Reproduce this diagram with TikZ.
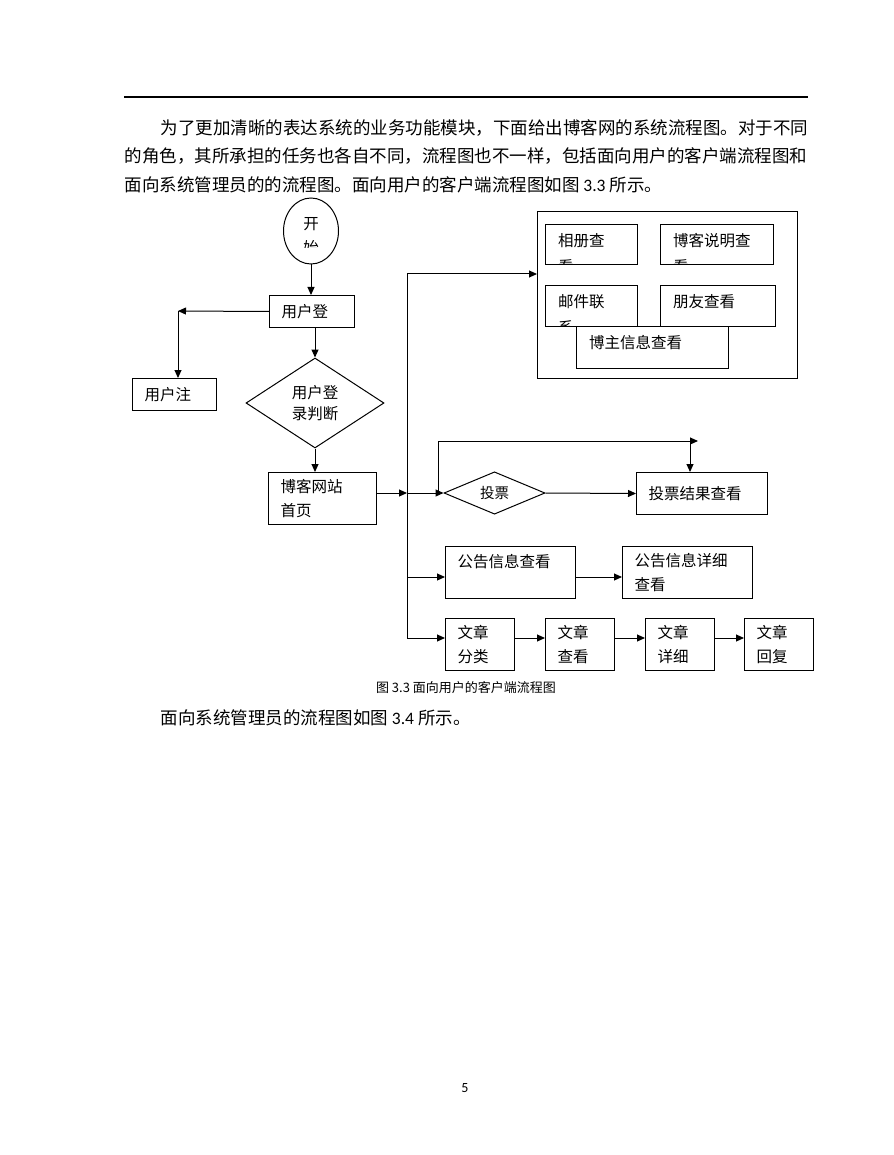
\documentclass[tikz,border=0pt]{standalone}
\usepackage{fontspec}
\setmainfont{Noto Sans CJK SC}
\newfontfamily\latin{Carlito}
\usetikzlibrary{shapes.geometric,arrows.meta}

\newcommand{\boxfont}{\fontsize{15.5}{24}\selectfont}
\newcommand{\bodyfont}{\fontsize{17.5}{28}\selectfont}
\newcommand{\capfont}{\fontsize{13}{16}\selectfont}

\tikzset{
  box/.style={draw, fill=white, anchor=north west, align=left, inner xsep=12pt, inner ysep=0pt, font=\boxfont},
  panel/.style={draw, fill=white, anchor=north west, inner sep=0pt},
  cut/.style={path picture={\node[anchor=north west, inner sep=0pt, minimum width=0pt, minimum height=0pt, align=left, font=\fontsize{15.5}{26}\selectfont] at ([shift={(12pt,-8pt)}]path picture bounding box.north west) {#1};}},
  decide/.style={diamond, draw, fill=white, inner sep=0pt, align=center},
  textline/.style={anchor=west, inner sep=0pt, font=\bodyfont},
}

\begin{document}
\begin{tikzpicture}[x=1pt, y=-1pt, line width=1pt, >={Triangle[length=8pt,width=7pt]}]
  \useasboundingbox (0,0) rectangle (893,1155);

  % page text
  \draw[line width=2pt] (124,97) -- (808,97);
  \node[textline] (para1) at (160,128) {为了更加清晰的表达系统的业务功能模块，下面给出博客网的系统流程图。对于不同};
  \node[textline] (para2) at (124,156) {的角色，其所承担的任务也各自不同，流程图也不一样，包括面向用户的客户端流程图和};
  \node[textline] (para3) at (124,185) {面向系统管理员的的流程图。面向用户的客户端流程图如图 {\latin 3.3} 所示。};
  \node[font=\capfont, inner sep=0pt] (caption) at (466,688) {图 3.3 面向用户的客户端流程图};
  \node[textline] (para4) at (160,718) {面向系统管理员的流程图如图 {\latin 3.4} 所示。};
  \node[font=\latin\fontsize{14}{16}\selectfont, inner sep=0pt] (pagenum) at (465,1088) {5};

  % left column
  \node[ellipse, draw, minimum width=55pt, minimum height=66pt, inner sep=0pt,
        path picture={\clip ([shift={(-30pt,-17pt)}]path picture bounding box.center) rectangle ([shift={(30pt,40pt)}]path picture bounding box.center);
          \node[align=center, font=\boxfont, inner sep=0pt, minimum width=0pt, minimum height=0pt] at ([shift={(0pt,-5pt)}]path picture bounding box.center) {开\\始};}] (start) at (311,231) {};
  \node[box, text width=61pt, minimum height=32pt] (login) at (269,295) {用户登};
  \node[box, text width=60pt, minimum height=32pt] (reg) at (132,378) {用户注};
  \node[decide, minimum width=138pt, minimum height=90pt, font=\fontsize{15.5}{21}\selectfont] (judge) at (315,403) {用户登\\录判断};
  \node[box, text width=84pt, minimum height=52pt] (home) at (268,472) {博客网站\\首页};

  % blog owner panel
  \node[panel, minimum width=260pt, minimum height=167pt] (frame) at (537,211) {};
  \node[panel, minimum width=92pt, minimum height=40pt, cut={相册查\\看}] (album) at (545,224) {};
  \node[panel, minimum width=113pt, minimum height=40pt, cut={博客说明查\\看}] (about) at (660,224) {};
  \node[panel, minimum width=92pt, minimum height=41pt, cut={邮件联\\系}] (mail) at (545,285) {};
  \node[panel, minimum width=115pt, minimum height=41pt, cut={朋友查看}] (friend) at (660,285) {};
  \node[panel, minimum width=152pt, minimum height=42pt, cut={博主信息查看}] (owner) at (576,326) {};

  % right column
  \node[decide, minimum width=101pt, minimum height=42pt, font=\fontsize{14.5}{20}\selectfont] (vote) at (494.5,493) {投票};
  \node[box, text width=107pt, minimum height=42pt] (result) at (636,472) {投票结果查看};
  \node[box, text width=106pt, minimum height=52pt] (notice) at (445,546) {公告信息查看\\\mbox{}};
  \node[box, text width=106pt, minimum height=52pt] (detail) at (622,546) {公告信息详细\\查看};
  \node[box, text width=45pt, minimum height=52pt] (sort) at (445,618) {文章\\分类};
  \node[box, text width=45pt, minimum height=52pt] (read) at (545,618) {文章\\查看};
  \node[box, text width=45pt, minimum height=52pt] (info) at (645,618) {文章\\详细};
  \node[box, text width=45pt, minimum height=52pt] (reply) at (744,618) {文章\\回复};

  \coordinate (regTurn) at (178,311);
  \coordinate (busTop) at (407,274);
  \coordinate (busBot) at (407,638);
  \coordinate (noticeRow) at (407,577);
  \coordinate (loopUp) at (438,441);
  \coordinate (loopEnd) at (698,441);
  \coordinate (loopDrop) at (690,441);

  \draw[->] (start.south) -- (start.south |- login.north);
  \draw[->] (login.west) -- (regTurn);
  \draw[->] (regTurn) -- (regTurn |- reg.north);
  \draw[->] (judge.north |- login.south) -- (judge.north);
  \draw[->] (judge.south) -- (judge.south |- home.north);

  \draw (busTop) -- (busBot);
  \draw[->] (busTop) -- (busTop -| frame.west);
  \draw[->] (home.east |- vote) -- (busTop |- vote);
  \draw[->] (busTop |- vote) -- (vote.west);
  \draw[->] (loopUp |- vote) -- (loopUp) -- (loopEnd);
  \draw[->] (loopDrop) -- (loopDrop |- result.north);
  \draw[->] (vote.east) -- (result.west);
  \draw[->] (noticeRow) -- (noticeRow -| notice.west);
  \draw[->] (notice.east |- noticeRow) -- (detail.west |- noticeRow);
  \draw[->] (busBot) -- (busBot -| sort.west);
  \draw[->] (sort.east |- busBot) -- (read.west |- busBot);
  \draw[->] (read.east |- busBot) -- (info.west |- busBot);
  \draw[->] (info.east |- busBot) -- (reply.west |- busBot);

\end{tikzpicture}
\end{document}
